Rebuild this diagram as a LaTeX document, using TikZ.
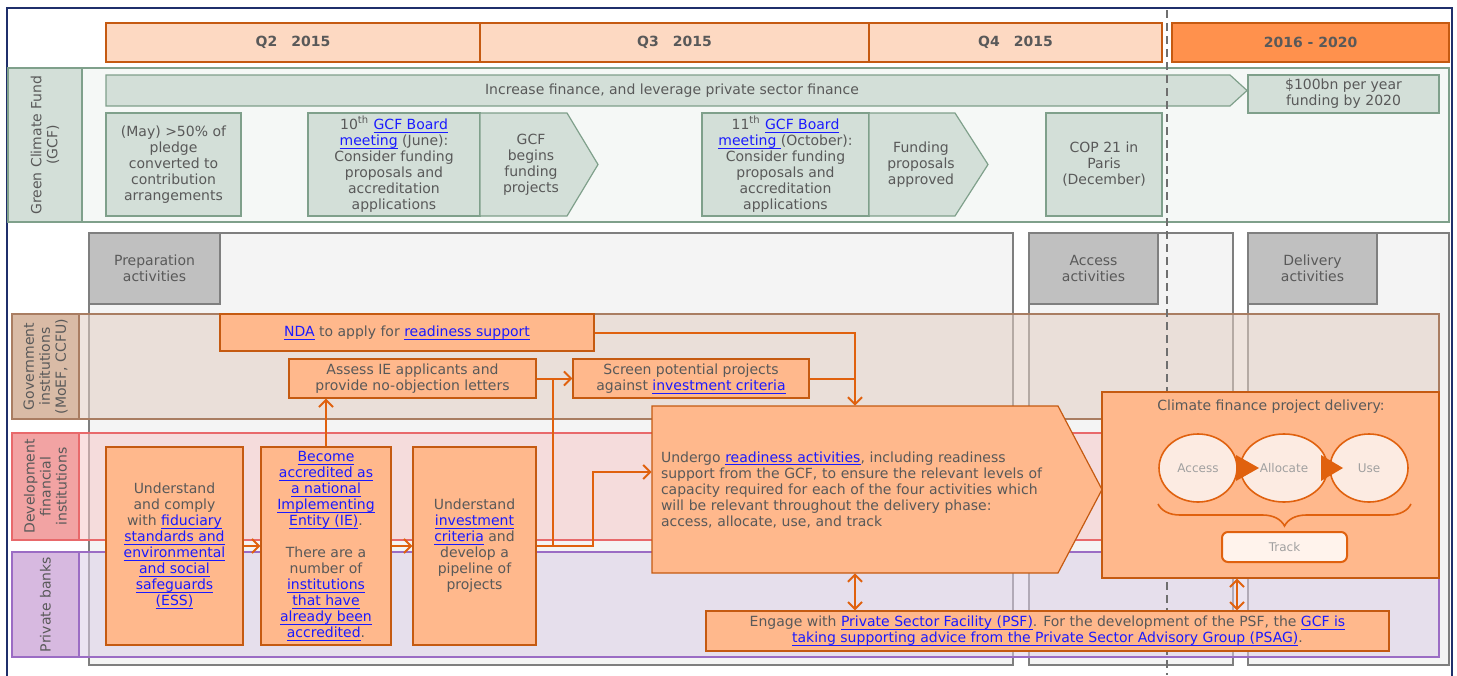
\documentclass[tikz,border=0pt]{standalone}
\usepackage{fontspec}
\setmainfont{DejaVu Sans}
\usetikzlibrary{arrows.meta,shapes.geometric,decorations.pathreplacing}

\definecolor{txtc}{HTML}{595959}
\definecolor{linkc}{HTML}{1A1AFF}
\definecolor{navyc}{HTML}{1F2F6B}
\definecolor{qfill}{HTML}{FDD9C2}
\definecolor{qdark}{HTML}{FF914D}
\definecolor{oline}{HTML}{C55A11}
\definecolor{ofill}{HTML}{FFB88C}
\definecolor{arrc}{HTML}{E0610E}
\definecolor{gline}{HTML}{7FA08B}
\definecolor{gfill}{HTML}{D3DFD8}
\definecolor{gband}{HTML}{F5F8F6}
\definecolor{colline}{HTML}{7F7F7F}
\definecolor{colfill}{HTML}{F4F4F4}
\definecolor{colhfill}{HTML}{C0C0C0}
\definecolor{govline}{HTML}{A97D62}
\definecolor{govfill}{HTML}{D9BBA6}
\definecolor{govband}{HTML}{E2CFC3}
\definecolor{dfiline}{HTML}{E8696B}
\definecolor{dfifill}{HTML}{F2A3A3}
\definecolor{dfiband}{HTML}{F7C9C9}
\definecolor{pbline}{HTML}{9B6CC4}
\definecolor{pbfill}{HTML}{D7B9E0}
\definecolor{pbband}{HTML}{DCCFE6}
\definecolor{circfill}{HTML}{FCEBE2}
\definecolor{trackfill}{HTML}{FFF3EC}
\definecolor{dashc}{HTML}{6F6F6F}
\definecolor{softtxt}{HTML}{A0A0A0}

% link text: blue, thin underline that keeps the line spacing
\newcommand\lnk[1]{\textcolor{linkc}{\setbox0\hbox{#1}\rlap{\vrule height -1.1pt depth 1.5pt width \wd0}\box0}}

\tikzset{
  base/.style={font=\fontsize{7}{8}\selectfont, text=txtc, align=center, inner sep=1pt},
  obox/.style={base, rectangle, draw=oline, fill=ofill, line width=0.6pt},
  oshape/.style={draw=oline, fill=ofill, line width=0.6pt},
  gbox/.style={base, rectangle, draw=gline, fill=gfill, line width=0.6pt},
  gshape/.style={draw=gline, fill=gfill, line width=0.6pt},
  qbox/.style={base, font=\fontsize{7}{8}\selectfont\bfseries, draw=oline, fill=qfill, line width=0.6pt, minimum height=19.5pt},
  colbox/.style={draw=colline, fill=colfill, line width=0.6pt},
  colhead/.style={base, draw=colline, fill=colhfill, line width=0.6pt, minimum height=35.5pt},
  rowlbl/.style={base, rotate=90, line width=0.6pt},
  circ/.style={ellipse, draw=arrc, fill=circfill, line width=0.8pt, minimum width=39pt, minimum height=34pt, font=\fontsize{6}{7}\selectfont, text=softtxt},
  arr/.style={draw=arrc, line width=1pt, -{Straight Barb[length=3.5pt,width=7pt]}},
  lnkline/.style={draw=arrc, line width=1pt},
  dblarr/.style={draw=arrc, line width=1pt, {Straight Barb[length=3.5pt,width=7pt]}-{Straight Barb[length=3.5pt,width=7pt]}},
}

\begin{document}
\begin{tikzpicture}[x=0.5pt,y=-0.5pt]
\useasboundingbox (0,0) rectangle (1457,675);
\clip (0,0) rectangle (1457,675);
\fill[white] (0,0) rectangle (1457,675);
\draw[navyc, line width=1.2pt] (7,8) rectangle (1452,700);

% time line
\node[qbox, minimum width=187pt] (q2) at (293,42.5) {Q2\quad 2015};
\node[qbox, minimum width=194.5pt] (q3) at (674.5,42.5) {Q3\quad 2015};
\node[qbox, minimum width=146.5pt] (q4) at (1015.5,42.5) {Q4\quad 2015};
\node[qbox, fill=qdark, minimum width=138.5pt] (y20) at (1310.5,42.5) {2016 - 2020};

% GCF row
\draw[gline, fill=gband, line width=0.6pt] (8,68) rectangle (1449,222);
\node[rowlbl, draw=gline, fill=gfill, minimum width=77pt, minimum height=37pt] (gcf) at (45,145) {Green Climate Fund\\(GCF)};
\draw[gshape] (106,75) -- (1230,75) -- (1247,90.5) -- (1230,106) -- (106,106) -- cycle;
\node[base] (incr) at (672,90.5) {Increase finance, and leverage private sector finance};
\node[gbox, minimum width=95.5pt, minimum height=19pt] (bn) at (1343.5,94) {\$100bn per year\\funding by 2020};
\node[gbox, minimum width=67.5pt, minimum height=51.5pt] (may) at (173.5,164.5) {(May) >50\% of\\pledge\\converted to\\contribution\\arrangements};
\node[gbox, minimum width=86pt, minimum height=51.5pt] (b10) at (394,164.5) {10\textsuperscript{th} \lnk{GCF Board}\\\lnk{meeting} (June):\\Consider funding\\proposals and\\accreditation\\applications};
\draw[gshape] (480,113) -- (567,113) -- (598,164.5) -- (567,216) -- (480,216) -- cycle;
\node[base] (begins) at (531,164.5) {GCF\\begins\\funding\\projects};
\node[gbox, minimum width=83.5pt, minimum height=51.5pt] (b11) at (785.5,164.5) {11\textsuperscript{th} \lnk{GCF Board}\\\lnk{meeting }(October):\\Consider funding\\proposals and\\accreditation\\applications};
\draw[gshape] (869,113) -- (955,113) -- (988,164.5) -- (955,216) -- (869,216) -- cycle;
\node[base] (approved) at (921,164.5) {Funding\\proposals\\approved};
\node[gbox, minimum width=58pt, minimum height=51.5pt] (cop) at (1104,164.5) {COP 21 in\\Paris\\(December)};

% activity columns
\draw[colbox] (89,233) rectangle (1013,665);
\draw[colbox] (1029,233) rectangle (1233,665);
\draw[colbox] (1248,233) rectangle (1449,665);
\node[colhead, minimum width=65.5pt] (prep) at (154.5,268.5) {Preparation\\activities};
\node[colhead, minimum width=64.5pt] (access) at (1093.5,268.5) {Access\\activities};
\node[colhead, minimum width=64.5pt] (delivery) at (1312.5,268.5) {Delivery\\activities};

% actor rows
\draw[govline, fill=govband, fill opacity=0.55, line width=0.6pt] (12,314) rectangle (1439,419);
\draw[dfiline, fill=dfiband, fill opacity=0.55, line width=0.6pt] (12,433) rectangle (1439,540);
\draw[pbline, fill=pbband, fill opacity=0.55, line width=0.6pt] (12,552) rectangle (1439,657);
\node[rowlbl, draw=govline, fill=govfill, minimum width=52.5pt, minimum height=33.5pt] (gov) at (45.5,366.5) {Government\\institutions\\(MoEF, CCFU)};
\node[rowlbl, draw=dfiline, fill=dfifill, minimum width=53.5pt, minimum height=33.5pt] (dfi) at (45.5,486.5) {Development\\financial\\institutions};
\node[rowlbl, draw=pbline, fill=pbfill, minimum width=52.5pt, minimum height=33.5pt] (pb) at (45.5,604.5) {Private banks};

\draw[dashc, line width=1pt, dash pattern=on 4pt off 2.5pt] (1167,10) -- (1167,675);

% steps
\node[obox, minimum width=187pt, minimum height=18.5pt] (nda) at (407,332.5) {\lnk{NDA} to apply for \lnk{readiness support}};
\node[obox, minimum width=123.5pt, minimum height=19.5pt] (assess) at (412.5,378.5) {Assess IE applicants and\\provide no-objection letters};
\node[obox, minimum width=118pt, minimum height=19.5pt] (screen) at (691,378.5) {Screen potential projects\\against \lnk{investment criteria}};
\node[obox, minimum width=68.5pt, minimum height=99pt] (ess) at (174.5,546) {Understand\\and comply\\with \lnk{fiduciary}\\\lnk{standards and}\\\lnk{environmental}\\\lnk{and social}\\\lnk{safeguards}\\\lnk{(ESS)}};
\node[obox, minimum width=65pt, minimum height=99pt] (ie) at (326,546) {\lnk{Become}\\\lnk{accredited as}\\\lnk{a national}\\\lnk{Implementing}\\\lnk{Entity (IE)}.\\[8pt]There are a\\number of\\\lnk{institutions}\\\lnk{that have}\\\lnk{already been}\\\lnk{accredited}.};
\node[obox, minimum width=61.5pt, minimum height=99pt] (pipe) at (474.5,546) {Understand\\\lnk{investment}\\\lnk{criteria} and\\develop a\\pipeline of\\projects};
\draw[oshape] (652,406) -- (1058,406) -- (1102,489.5) -- (1058,573) -- (652,573) -- cycle;
\node[base, text width=194pt, align=left, minimum width=203pt, minimum height=83.5pt] (ready) at (855,489.5) {Undergo \lnk{readiness activities}, including readiness\\support from the GCF, to ensure the relevant levels of\\capacity required for each of the four activities which\\will be relevant throughout the delivery phase:\\access, allocate, use, and track};
\node[obox, minimum width=168.5pt, minimum height=93pt] (deliv) at (1270.5,485) {};
\node[base] (dtitle) at (1271,407) {Climate finance project delivery:};
\node[circ] (acc) at (1198,468) {Access};
\node[circ] (alloc) at (1284,468) {Allocate};
\node[circ] (use) at (1369,468) {Use};
\fill[arrc] (1236,455) -- (1259,468) -- (1236,481) -- cycle;
\fill[arrc] (1321,455) -- (1343,468) -- (1321,481) -- cycle;
\draw[arrc, line width=0.8pt, decorate, decoration={brace, mirror, amplitude=11pt}] (1158,504) -- (1411,504);
\node[base, rectangle, rounded corners=3pt, draw=arrc, fill=trackfill, line width=1pt, minimum width=62.5pt, minimum height=15pt, font=\fontsize{6}{7}\selectfont, text=softtxt] (track) at (1284.5,547) {Track};
\node[obox, minimum width=341.5pt, minimum height=20pt] (psf) at (1047.5,631) {Engage with \lnk{Private Sector Facility (PSF)}. For the development of the PSF, the \lnk{GCF is}\\\lnk{taking supporting advice from the Private Sector Advisory Group (PSAG)}.};

% connectors
\coordinate (ja) at (553,378.5);
\coordinate (jb) at (593,472);
\coordinate (jd) at (1237,600);
\draw[arr] (nda.east) -- (nda.east -| ready.north) -- (ready.north);
\draw[lnkline] (screen.east) -- (screen.east -| ready.north);
\draw[arr] (ie.north) -- (ie.north |- assess.south);
\draw[arr] (assess.east) -- (screen.west);
\draw[lnkline] (pipe.east) -| (ja);
\draw[arr] (pipe.east) -| (jb) -- (jb -| ready.west);
\draw[arr] (ess.east) -- (ie.west);
\draw[arr] (ie.east) -- (pipe.west);
\draw[dblarr] (ready.south) -- (ready.south |- psf.north);
\draw[dblarr] (jd |- deliv.south) -- (jd |- psf.north);
\end{tikzpicture}
\end{document}
